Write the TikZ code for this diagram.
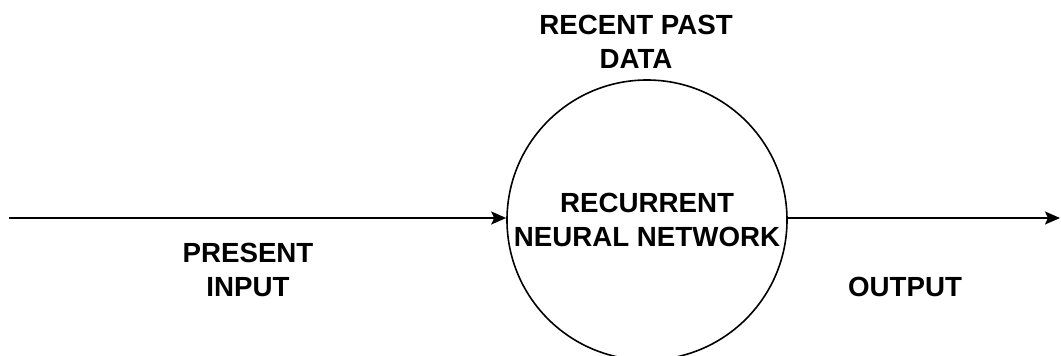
\documentclass[tikz,border=0pt]{standalone}
\usepackage{fontspec}
\setmainfont{Liberation Sans}
\usetikzlibrary{arrows.meta}
\begin{document}
\begin{tikzpicture}[x=1pt,y=-1pt,
  lbl/.style={align=center,inner sep=0pt,font=\fontsize{27.7}{34}\selectfont\bfseries},
  conn/.style={line width=1.9pt,-{Stealth[length=15pt,width=13pt,inset=3pt]}}]
\useasboundingbox (0,0) rectangle (1061,356);
\node[circle,draw,line width=1.6pt,minimum size=280pt,inner sep=0pt,lbl] (rnn) at (647,220) {RECURRENT\\NEURAL NETWORK};
\node[lbl] (past) at (636,42) {RECENT PAST\\DATA};
\node[lbl] (in) at (248,270) {PRESENT\\INPUT};
\node[lbl] (out) at (905,287) {OUTPUT};
\coordinate (start) at (9,218);
\coordinate (end) at (1060,218);
\draw[conn] (start) -- (rnn.west |- start);
\draw[conn] (rnn.east |- start) -- (end);
\end{tikzpicture}
\end{document}
